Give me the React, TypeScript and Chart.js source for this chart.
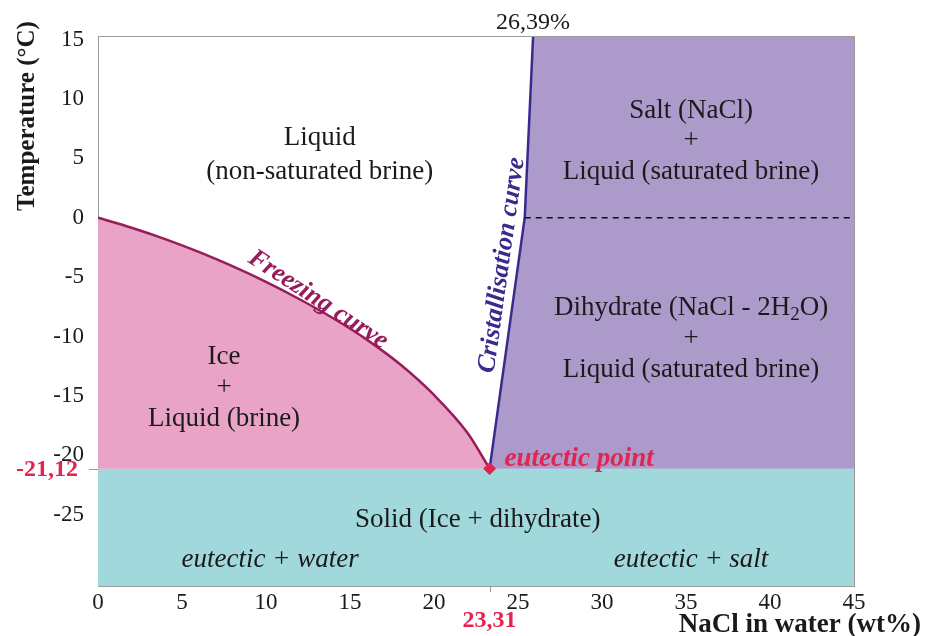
import React, { useEffect, useRef } from "react";
import { Chart, registerables } from "chart.js";

Chart.register(...registerables);

// ---- data ----
const xTickValues = [0, 5, 10, 15, 20, 25, 30, 35, 40, 45];
const yTickValues = [15, 10, 5, 0, -5, -10, -15, -20, -25];
const xRange = [0, 45];
const yRange = [-31, 15.3];

const eutecticX = 23.31;
const eutecticY = -21.12;

// freezing curve (liquidus of ice)
const freezingX = [0, 2, 4, 6, 8, 10, 12, 14, 16, 18, 20, 22, 23.31];
const freezingY = [0, -0.84, -1.8, -2.88, -4.08, -5.4, -6.86, -8.46, -10.26, -12.36, -14.92, -18.12, -21.12];

// cristallisation curve (solubility)
const crystX = [23.31, 25.4, 25.9];
const crystY = [-21.12, 0, 15.3];

// salt / dihydrate transition (dashed)
const transitionX = [25.4, 45];
const transitionY = [0, 0];

const topLabel = "26,39%";
const eutecticXLabel = "23,31";
const eutecticYLabel = "-21,12";
const xTitle = "NaCl in water (wt%)";
const yTitle = "Temperature (°C)";

const SERIF = "'Liberation Serif', 'Times New Roman', serif";

const COLORS = {
  pink: "#E9A3C6",
  purple: "#AC9ACA",
  cyan: "#A0D8DC",
  freezing: "#971C5B",
  cryst: "#3B2A8E",
  red: "#E3244F",
  text: "#1a1a1a",
  axis: "#9a9a9a",
};

function pts(xs: number[], ys: number[]) {
  return xs.map((x, i) => ({ x, y: ys[i] }));
}

function txt(
  ctx: CanvasRenderingContext2D,
  s: string,
  x: number,
  y: number,
  font: string,
  color: string,
  align: CanvasTextAlign = "center",
  rot = 0
) {
  ctx.save();
  ctx.translate(x, y);
  if (rot) ctx.rotate(rot);
  ctx.font = font;
  ctx.fillStyle = color;
  ctx.textAlign = align;
  ctx.textBaseline = "middle";
  ctx.fillText(s, 0, 0);
  ctx.restore();
}

const annotPlugin = {
  id: "annot",
  afterDatasetsDraw(chart: any) {
    const { ctx, chartArea: a, scales } = chart;
    const xs = scales.x;
    const ys = scales.y;
    const X = (v: number) => xs.getPixelForValue(v);
    const Y = (v: number) => ys.getPixelForValue(v);
    ctx.save();
    // box border top & right
    ctx.strokeStyle = COLORS.axis;
    ctx.lineWidth = 1;
    ctx.beginPath();
    ctx.moveTo(a.left, a.top + 0.5);
    ctx.lineTo(a.right + 0.5, a.top + 0.5);
    ctx.lineTo(a.right + 0.5, a.bottom);
    ctx.stroke();
    // eutectic ticks
    ctx.beginPath();
    ctx.moveTo(a.left - 9, Math.round(Y(eutecticY)) + 0.5);
    ctx.lineTo(a.left, Math.round(Y(eutecticY)) + 0.5);
    ctx.moveTo(Math.round(X(eutecticX)) + 0.5, a.bottom);
    ctx.lineTo(Math.round(X(eutecticX)) + 0.5, a.bottom + 6);
    ctx.stroke();

    const reg = `27px ${SERIF}`;
    const it = `italic 27px ${SERIF}`;
    // Liquid region
    txt(ctx, "Liquid", X(13.2), Y(6.7), reg, COLORS.text);
    txt(ctx, "(non-saturated brine)", X(13.2), Y(3.9), reg, COLORS.text);
    // Salt region
    txt(ctx, "Salt (NaCl)", X(35.3), Y(9.0), reg, COLORS.text);
    txt(ctx, "+", X(35.3), Y(6.5), reg, COLORS.text);
    txt(ctx, "Liquid (saturated brine)", X(35.3), Y(3.9), reg, COLORS.text);
    // Dihydrate region with subscript
    {
      const cx = X(35.3);
      const cy = Y(-7.6);
      ctx.font = reg;
      const p1 = "Dihydrate (NaCl - 2H";
      const p3 = "O)";
      const w1 = ctx.measureText(p1).width;
      const w3 = ctx.measureText(p3).width;
      ctx.font = `19px ${SERIF}`;
      const w2 = ctx.measureText("2").width;
      const start = cx - (w1 + w2 + w3) / 2;
      txt(ctx, p1, start, cy, reg, COLORS.text, "left");
      txt(ctx, "2", start + w1, cy + 7, `19px ${SERIF}`, COLORS.text, "left");
      txt(ctx, p3, start + w1 + w2, cy, reg, COLORS.text, "left");
    }
    txt(ctx, "+", X(35.3), Y(-10.2), reg, COLORS.text);
    txt(ctx, "Liquid (saturated brine)", X(35.3), Y(-12.8), reg, COLORS.text);
    // Ice region
    txt(ctx, "Ice", X(7.5), Y(-11.7), reg, COLORS.text);
    txt(ctx, "+", X(7.5), Y(-14.3), reg, COLORS.text);
    txt(ctx, "Liquid (brine)", X(7.5), Y(-16.9), reg, COLORS.text);
    // Solid region
    txt(ctx, "Solid (Ice + dihydrate)", X(22.6), Y(-25.4), reg, COLORS.text);
    txt(ctx, "eutectic + water", X(10.25), Y(-28.8), it, COLORS.text);
    txt(ctx, "eutectic + salt", X(35.3), Y(-28.8), it, COLORS.text);
    // curve labels
    txt(ctx, "eutectic point", X(24.2), Y(-20.3), `bold italic 27px ${SERIF}`, COLORS.red, "left");
    txt(ctx, "Freezing curve", X(13.1), Y(-6.9), `bold italic 26px ${SERIF}`, COLORS.freezing, "center", (33 * Math.PI) / 180);
    txt(ctx, "Cristallisation curve", X(24.05), Y(-4.0), `bold italic 26px ${SERIF}`, COLORS.cryst, "center", (-82 * Math.PI) / 180);
    // value labels
    txt(ctx, topLabel, X(25.9), a.top - 13, `24px ${SERIF}`, COLORS.text);
    txt(ctx, eutecticYLabel, a.left - 20, Y(eutecticY) + 1, `bold 24px ${SERIF}`, COLORS.red, "right");
    txt(ctx, eutecticXLabel, X(eutecticX), a.bottom + 35, `bold 24px ${SERIF}`, COLORS.red);
    // axis titles
    txt(ctx, yTitle, 28, 116, `bold 25px ${SERIF}`, COLORS.text, "center", -Math.PI / 2);
    txt(ctx, xTitle, 921, a.bottom + 39, `bold 27px ${SERIF}`, COLORS.text, "right");
    ctx.restore();
  },
};

export default function App() {
  const ref = useRef<HTMLCanvasElement | null>(null);
  useEffect(() => {
    const canvas = ref.current;
    if (!canvas) return;
    const chart = new Chart(canvas, {
      type: "line",
      data: {
        datasets: [
          {
            label: "eutectic",
            data: [{ x: eutecticX, y: eutecticY }],
            showLine: false,
            pointStyle: "rectRot",
            pointRadius: 6,
            pointBackgroundColor: COLORS.red,
            pointBorderColor: COLORS.red,
            order: 1,
          } as any,
          {
            label: "transition",
            data: pts(transitionX, transitionY),
            borderColor: "#111",
            borderWidth: 1.6,
            borderDash: [6, 5],
            pointRadius: 0,
            fill: false,
            order: 3,
          },
          {
            label: "cristallisation",
            data: pts(crystX, crystY),
            borderColor: COLORS.cryst,
            borderWidth: 2.5,
            pointRadius: 0,
            fill: false,
            order: 4,
          },
          {
            label: "freezing",
            data: pts(freezingX, freezingY),
            borderColor: COLORS.freezing,
            backgroundColor: COLORS.pink,
            borderWidth: 2.5,
            pointRadius: 0,
            cubicInterpolationMode: "monotone",
            fill: { value: eutecticY },
            order: 5,
          } as any,
          {
            label: "purple",
            data: [...pts(crystX, crystY), { x: xRange[1], y: yRange[1] }],
            borderWidth: 0,
            borderColor: "rgba(0,0,0,0)",
            backgroundColor: COLORS.purple,
            pointRadius: 0,
            fill: { value: eutecticY },
            order: 8,
          } as any,
          {
            label: "solid",
            data: [
              { x: xRange[0], y: eutecticY },
              { x: xRange[1], y: eutecticY },
            ],
            borderWidth: 0,
            borderColor: "rgba(0,0,0,0)",
            backgroundColor: COLORS.cyan,
            pointRadius: 0,
            fill: "start",
            order: 10,
          },
        ],
      },
      options: {
        responsive: false,
        animation: false,
        events: [],
        layout: { padding: { left: 0, top: 36, right: 71, bottom: 0 } },
        plugins: {
          legend: { display: false },
          tooltip: { enabled: false },
          filler: { propagate: false },
        },
        scales: {
          x: {
            type: "linear",
            min: xRange[0],
            max: xRange[1],
            grid: { display: false, drawTicks: false },
            border: { display: true, color: COLORS.axis, width: 1 },
            afterBuildTicks: (s: any) => {
              s.ticks = xTickValues.map((v) => ({ value: v }));
            },
            afterFit: (s: any) => {
              s.height = 50;
            },
            ticks: {
              padding: 3,
              color: COLORS.text,
              font: { family: SERIF, size: 23 },
              maxRotation: 0,
              callback: (v: any) => String(v),
            },
          },
          y: {
            type: "linear",
            min: yRange[0],
            max: yRange[1],
            grid: { display: false, drawTicks: false },
            border: { display: true, color: COLORS.axis, width: 1 },
            afterBuildTicks: (s: any) => {
              s.ticks = yTickValues.map((v) => ({ value: v }));
            },
            afterFit: (s: any) => {
              s.width = 98;
            },
            ticks: {
              padding: 14,
              color: COLORS.text,
              font: { family: SERIF, size: 23 },
              callback: (v: any) => String(v),
            },
          },
        },
      },
      plugins: [annotPlugin],
    } as any);
    return () => chart.destroy();
  }, []);
  return (
    <div style={{ position: "fixed", left: 0, top: 0, width: 925, height: 636, background: "#fff" }}>
      <canvas ref={ref} width={925} height={636} style={{ display: "block" }} />
    </div>
  );
}
